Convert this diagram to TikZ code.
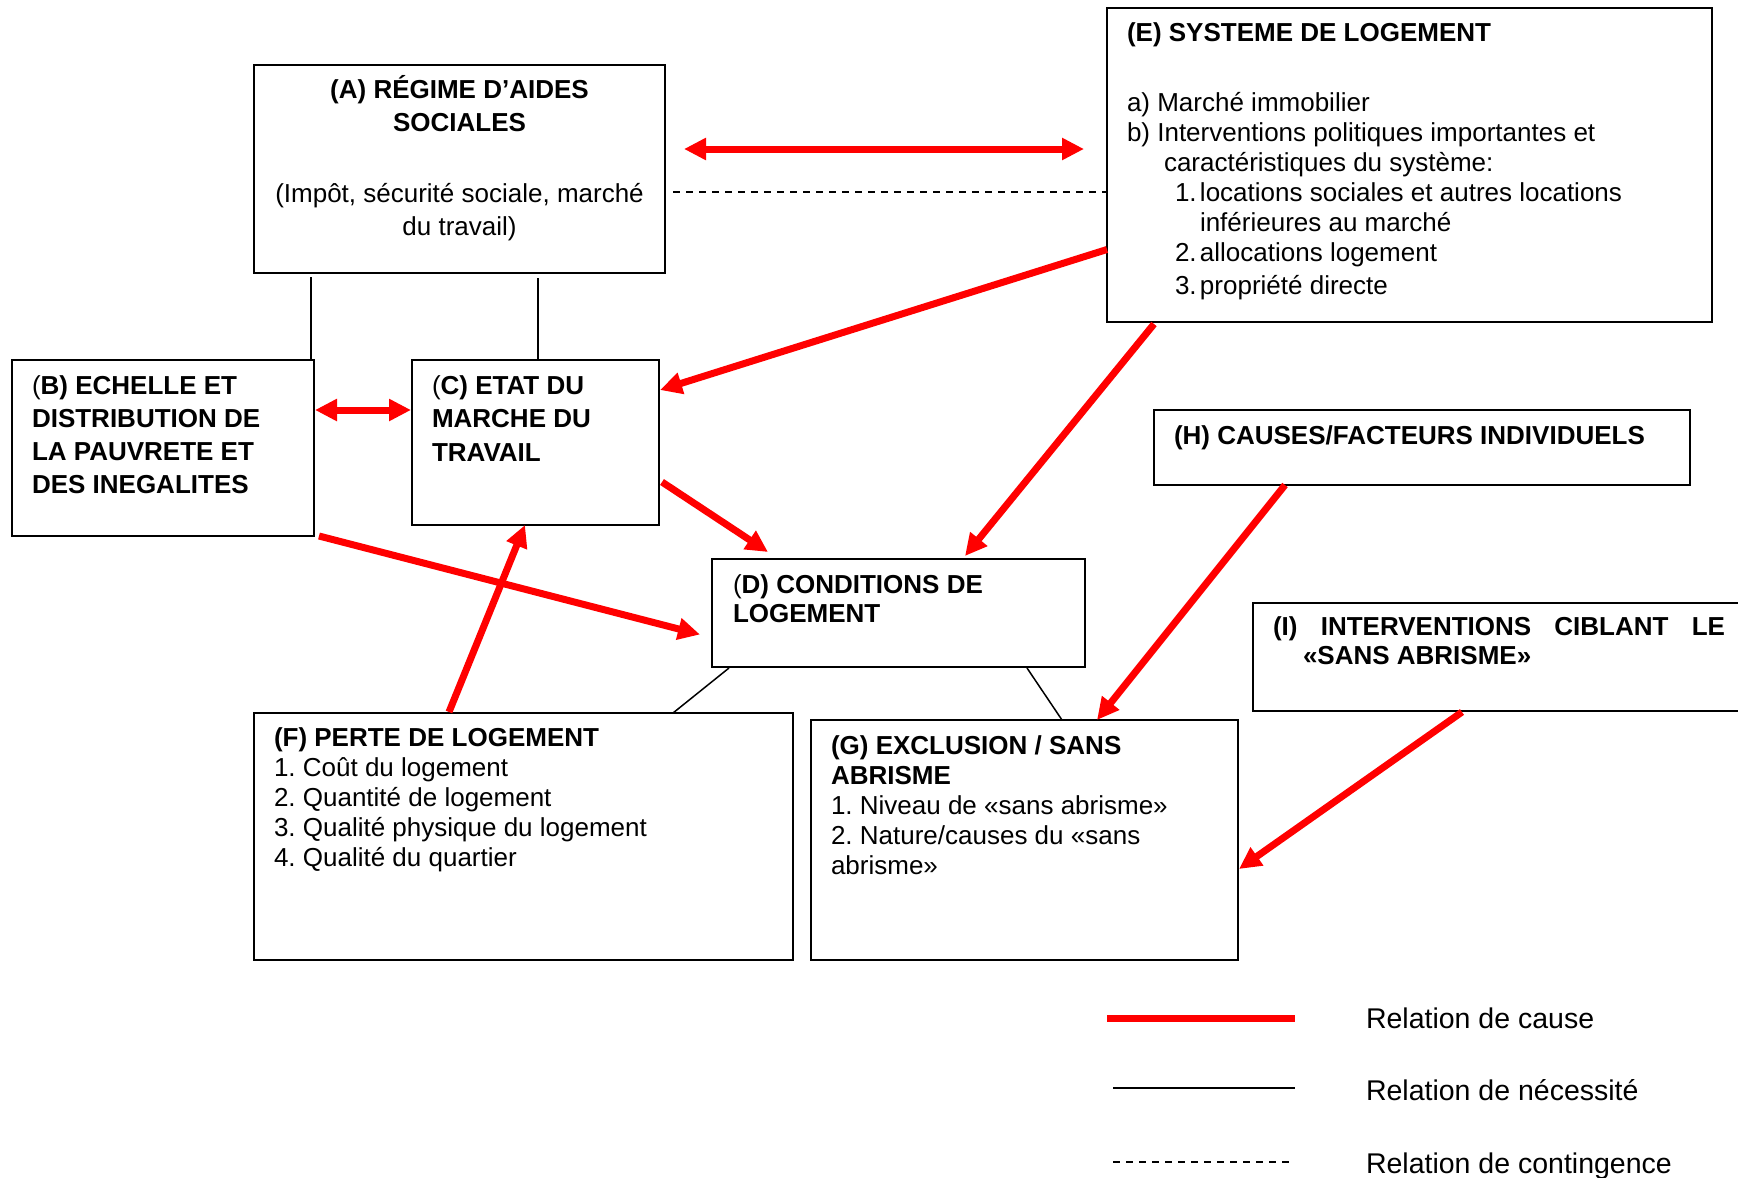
\documentclass[tikz,border=0pt]{standalone}
\usepackage{fontspec}
\setmainfont{Liberation Sans}
\usetikzlibrary{arrows.meta,calc}
\frenchspacing
\tikzset{
  box/.style={draw, line width=1.6pt, rectangle, anchor=north west, inner sep=0pt, outer sep=0pt},
  txt/.style={anchor=base west, inner sep=0pt, outer sep=0pt, font=\fontsize{26pt}{30pt}\selectfont},
  legtxt/.style={anchor=base west, inner sep=0pt, outer sep=0pt, font=\fontsize{28.5pt}{34pt}\selectfont},
  cause/.style={draw=red, line width=7pt, -{Triangle[length=22pt,width=21pt]}},
  cause2/.style={draw=red, line width=7pt, {Triangle[length=22pt,width=21pt]}-{Triangle[length=22pt,width=21pt]}},
  need/.style={draw=black, line width=1.5pt},
  cont/.style={draw=black, line width=1.3pt, dash pattern=on 7pt off 6pt},
}
\begin{document}
\begin{tikzpicture}[x=1pt,y=-1pt]
\useasboundingbox (0,0) rectangle (1738,1178);
\fill[white] (0,0) rectangle (1738,1178);
\clip (0,0) rectangle (1738,1178);

% boxes
\node[box, minimum width=411pt, minimum height=208pt] (A) at (254,65) {};
\node[box, minimum width=302pt, minimum height=176pt] (B) at (12,360) {};
\node[box, minimum width=247pt, minimum height=165pt] (C) at (412,360) {};
\node[box, minimum width=373pt, minimum height=108pt] (D) at (712,559) {};
\node[box, minimum width=605pt, minimum height=314pt] (E) at (1107,8) {};
\node[box, minimum width=539pt, minimum height=247pt] (F) at (254,713) {};
\node[box, minimum width=427pt, minimum height=240pt] (G) at (811,720) {};
\node[box, minimum width=536pt, minimum height=75pt] (H) at (1154,410) {};
\node[box, minimum width=520pt, minimum height=108pt] (I) at (1253,603) {};

% texts
\node[txt, anchor=base] (tA) at (459.5,98) {\parbox[t]{420pt}{\centering\fontsize{26pt}{33pt}\selectfont
  \textbf{(A) RÉGIME D’AIDES}\\\textbf{SOCIALES}\\[38pt]
  (Impôt, sécurité sociale, marché\\du travail)}};

\node[txt] (tE) at (1127,41) {\parbox[t]{590pt}{\textbf{(E) SYSTEME DE LOGEMENT}\\[40pt]
  a) Marché immobilier\\
  b) Interventions politiques importantes et\\
  \hspace*{37pt}caractéristiques du système:\\
  \hspace*{48pt}\makebox[25pt][l]{1.}locations sociales et autres locations\\
  \hspace*{73pt}inférieures au marché\\
  \hspace*{48pt}\makebox[25pt][l]{2.}allocations logement\\[3pt]
  \hspace*{48pt}\makebox[25pt][l]{3.}propriété directe}};

\node[txt] (tB) at (32,394) {\parbox[t]{280pt}{\fontsize{26pt}{33pt}\selectfont\bfseries
  {\mdseries(}B) ECHELLE ET\\DISTRIBUTION DE\\LA PAUVRETE ET\\DES INEGALITES}};

\node[txt] (tC) at (432,394) {\parbox[t]{220pt}{\fontsize{26pt}{33.5pt}\selectfont\bfseries
  {\mdseries(}C) ETAT DU\\MARCHE DU\\TRAVAIL}};

\node[txt] (tD) at (733,593) {\parbox[t]{340pt}{\fontsize{26pt}{29pt}\selectfont\bfseries
  {\mdseries(}D) CONDITIONS DE\\LOGEMENT}};

\node[txt] (tF) at (274,746) {\parbox[t]{500pt}{\textbf{(F) PERTE DE LOGEMENT}\\
  1. Coût du logement\\2. Quantité de logement\\3. Qualité physique du logement\\4. Qualité du quartier}};

\node[txt] (tG) at (831,754) {\parbox[t]{400pt}{\textbf{(G) EXCLUSION / SANS}\\\textbf{ABRISME}\\
  1. Niveau de «sans abrisme»\\2. Nature/causes du «sans\\abrisme»}};

\node[txt] (tH) at (1174,444) {\textbf{(H) CAUSES/FACTEURS INDIVIDUELS}};

\node[txt] (tI) at (1273,635) {\parbox[t]{470pt}{\fontsize{26pt}{29pt}\selectfont\bfseries
  \makebox[452pt][s]{(I) INTERVENTIONS CIBLANT LE}\\\hspace*{30pt}«SANS ABRISME»}};

% connectors
\draw[cause2] ($(A.east)+(19,-20)$) -- ($(E.west)+(-23,-16)$);
\draw[cont] ($(A.east)+(8,23)$) -- ($(E.west)+(0,27)$);
\draw[need] ($(A.south west)+(57,4)$) -- ($(B.north west)+(299,0)$);
\draw[need] ($(A.south west)+(284,5)$) -- ($(C.north west)+(126,0)$);
\draw[cause2] ($(B.east)+(1,-38)$) -- ($(C.west)+(-1,-32.5)$);
\draw[cause] ($(E.west)+(0,84.5)$) -- ($(C.east)+(1,-52.5)$);
\draw[cause] ($(E.south west)+(47,2)$) -- ($(D.north)+(66.5,-3)$);
\draw[cause] ($(C.east)+(3,39.5)$) -- ($(D.north west)+(56,-7)$);
\draw[cause] ($(B.south east)+(5,0)$) -- ($(D.west)+(-12,21.5)$);
\draw[cause] ($(F.north west)+(195,-1)$) -- ($(C.south)+(-10.5,0)$);
\draw[need] ($(D.south west)+(17,1)$) -- ($(F.north west)+(419,0)$);
\draw[need] ($(D.south west)+(315,1)$) -- ($(G.north west)+(251,0)$);
\draw[cause] ($(H.south west)+(131,0)$) -- ($(G.north west)+(286,0)$);
\draw[cause] ($(I.south west)+(209,1)$) -- ($(G.east)+(1,29)$);

% legend
\coordinate (l1a) at (1107,1018); \coordinate (l1b) at (1295,1018);
\coordinate (l2a) at (1113,1088); \coordinate (l2b) at (1295,1088);
\coordinate (l3a) at (1113,1162); \coordinate (l3b) at (1295,1162);
\draw[draw=red, line width=7pt] (l1a) -- (l1b);
\draw[need] (l2a) -- (l2b);
\draw[cont] (l3a) -- (l3b);
\node[legtxt] (L1) at (1366,1028) {Relation de cause};
\node[legtxt] (L2) at (1366,1100) {Relation de nécessité};
\node[legtxt] (L3) at (1366,1173) {Relation de contingence};
\end{tikzpicture}
\end{document}
